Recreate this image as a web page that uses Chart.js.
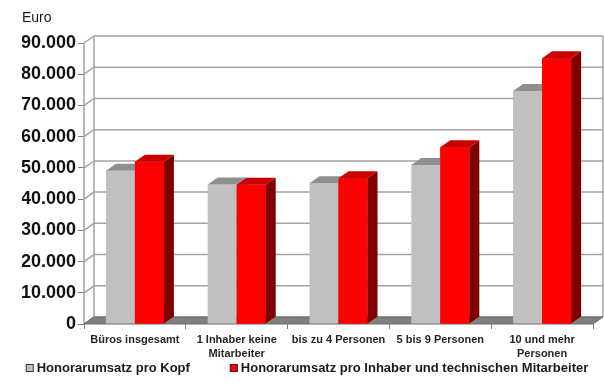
<!DOCTYPE html>
<html>
<head>
<meta charset="utf-8">
<script src="https://cdn.jsdelivr.net/npm/chart.js@4"></script>
<style>
  html, body { margin: 0; padding: 0; background: #ffffff; }
  #wrap { width: 604px; height: 383px; }
</style>
</head>
<body>
<div id="wrap"><canvas id="c" width="604" height="383"></canvas></div>
<script>
// Office size classes (x axis)
const categories = [
  'Büros insgesamt',
  ['1 Inhaber keine', 'Mitarbeiter'],
  'bis zu 4 Personen',
  '5 bis 9 Personen',
  ['10 und mehr', 'Personen']
];
const seriesNames = [
  'Honorarumsatz pro Kopf',
  'Honorarumsatz pro Inhaber und technischen Mitarbeiter'
];
// Fee revenue in euro
const proKopf = [49100, 44700, 45100, 50900, 74600];
const proInhaber = [52000, 44600, 46700, 56600, 85100];
const yTickLabels = ['0', '10.000', '20.000', '30.000', '40.000', '50.000', '60.000', '70.000', '80.000', '90.000'];
const unitLabel = 'Euro';

const FONT = '"Liberation Sans", Arial, Helvetica, sans-serif';
const DX = 10, DY = -7;          // depth offset of the 3D box
const faces = [
  { front: '#c0c0c0', top: '#8f8f8f', side: '#707070' },
  { front: '#ff0000', top: '#c80000', side: '#7e0000' }
];

function poly(ctx, pts) {
  ctx.beginPath();
  ctx.moveTo(pts[0][0], pts[0][1]);
  for (let i = 1; i < pts.length; i++) ctx.lineTo(pts[i][0], pts[i][1]);
  ctx.closePath();
}

const box3d = {
  id: 'box3d',
  beforeDatasetsDraw(chart) {
    const { ctx, chartArea: a, scales: { y } } = chart;
    ctx.save();
    // back and side walls with grid lines
    ctx.strokeStyle = '#a3a3a3';
    ctx.lineWidth = 1.5;
    y.ticks.forEach(t => {
      const py = y.getPixelForValue(t.value);
      ctx.beginPath();
      ctx.moveTo(a.left, py);
      ctx.lineTo(a.left + DX, py + DY);
      ctx.lineTo(a.right + DX, py + DY);
      ctx.stroke();
    });
    ctx.beginPath();
    ctx.moveTo(a.left, a.top);
    ctx.lineTo(a.left, a.bottom);
    ctx.moveTo(a.left + DX, a.top + DY);
    ctx.lineTo(a.left + DX, a.bottom + DY);
    ctx.moveTo(a.right + DX, a.top + DY);
    ctx.lineTo(a.right + DX, a.bottom + DY);
    ctx.stroke();
    // floor
    poly(ctx, [[a.left, a.bottom], [a.right, a.bottom], [a.right + DX, a.bottom + DY], [a.left + DX, a.bottom + DY]]);
    ctx.fillStyle = '#808080';
    ctx.fill();
    ctx.strokeStyle = '#6a6a6a';
    ctx.lineWidth = 1;
    ctx.stroke();
    ctx.restore();
  },
  afterDatasetsDraw(chart) {
    const { ctx } = chart;
    const metas = chart.data.datasets.map((_, d) => chart.getDatasetMeta(d));
    ctx.save();
    for (let i = 0; i < chart.data.labels.length; i++) {
      metas.forEach((m, d) => {
        const el = m.data[i];
        if (d > 0) el.draw(ctx, chart.chartArea);
        const { x, y, base, width } = el.getProps(['x', 'y', 'base', 'width'], true);
        const l = x - width / 2, r = x + width / 2;
        poly(ctx, [[r, y], [r + DX, y + DY], [r + DX, base + DY], [r, base]]);
        ctx.fillStyle = faces[d].side;
        ctx.fill();
        poly(ctx, [[l, y], [r, y], [r + DX, y + DY], [l + DX, y + DY]]);
        ctx.fillStyle = faces[d].top;
        ctx.fill();
      });
    }
    ctx.restore();
  }
};

const legendRow = {
  id: 'legendRow',
  afterDraw(chart) {
    const { ctx } = chart;
    ctx.save();
    ctx.font = 'bold 13px ' + FONT;
    ctx.textBaseline = 'middle';
    const boxS = 8, gap = 3, sep = 40;
    const widths = chart.data.datasets.map(ds => ctx.measureText(ds.label).width);
    const total = widths.reduce((s, w) => s + boxS + gap + w, 0) + sep * (widths.length - 1);
    let x = (chart.width - total) / 2 + 5;
    const cy = chart.height - 15;
    chart.data.datasets.forEach((ds, d) => {
      ctx.fillStyle = ds.backgroundColor;
      ctx.fillRect(x, cy - boxS / 2, boxS, boxS);
      ctx.strokeStyle = '#333333';
      ctx.lineWidth = 1;
      ctx.strokeRect(x + 0.5, cy - boxS / 2 + 0.5, boxS - 1, boxS - 1);
      x += boxS + gap;
      ctx.fillStyle = '#1a1a1a';
      ctx.fillText(ds.label, x, cy + 0.5);
      x += widths[d] + sep;
    });
    ctx.restore();
  }
};

new Chart(document.getElementById('c'), {
  type: 'bar',
  data: {
    labels: categories,
    datasets: [
      { label: seriesNames[0], data: proKopf, backgroundColor: faces[0].front, borderWidth: 0 },
      { label: seriesNames[1], data: proInhaber, backgroundColor: faces[1].front, borderWidth: 0 }
    ]
  },
  options: {
    responsive: false,
    devicePixelRatio: 1,
    animation: false,
    categoryPercentage: 0.57,
    barPercentage: 1.0,
    layout: { padding: { left: 22, right: 11, top: 0, bottom: 24 } },
    plugins: {
      legend: { display: false },
      tooltip: { enabled: false },
      title: {
        display: true,
        text: unitLabel,
        align: 'start',
        color: '#1a1a1a',
        font: { family: FONT, size: 14, weight: 'normal', lineHeight: 1.2 },
        padding: { top: 9.6, bottom: 16.6 }
      }
    },
    scales: {
      x: {
        offset: true,
        border: { display: false },
        grid: { offset: true, drawOnChartArea: false, drawTicks: true, tickLength: 5, color: '#808080', lineWidth: 1 },
        ticks: {
          autoSkip: false, maxRotation: 0, padding: 4,
          color: '#262626',
          font: { family: FONT, size: 11, weight: 'bold', lineHeight: 1.25 }
        },
        afterFit(s) { s.height = 35; }
      },
      y: {
        min: 0, max: 90000,
        border: { display: false },
        grid: { drawOnChartArea: false, drawTicks: true, tickLength: 6, color: '#808080', lineWidth: 1 },
        ticks: {
          stepSize: 10000, padding: 2,
          color: '#111111',
          font: { family: FONT, size: 18, weight: 'bold' },
          callback: (v, i) => yTickLabels[i]
        },
        afterFit(s) { s.width = 62; }
      }
    }
  },
  plugins: [box3d, legendRow]
});
</script>
</body>
</html>
